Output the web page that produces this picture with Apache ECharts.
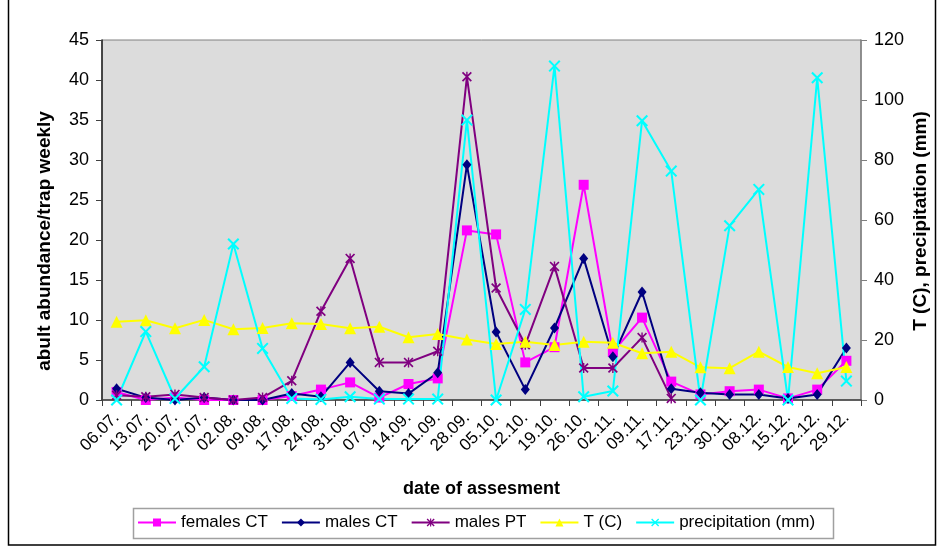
<!DOCTYPE html>
<html>
<head>
<meta charset="utf-8">
<script src="https://cdn.jsdelivr.net/npm/echarts@6/dist/echarts.min.js"></script>
<style>html,body{margin:0;padding:0;background:#fff}#c{width:943px;height:547px}</style>
</head>
<body>
<div id="c"></div>
<script>
const categories = ['06.07.','13.07.','20.07.','27.07.','02.08.','09.08.','17.08.','24.08.','31.08.','07.09.','14.09.','21.09.','28.09.','05.10.','12.10.','19.10.','26.10.','02.11.','09.11.','17.11.','23.11.','30.11.','08.12.','15.12.','22.12.','29.12.'];
const femalesCT = [1.0,0,0.3,0,0,0,0.5,1.3,2.2,0.3,2.0,2.7,21.2,20.7,4.7,6.6,26.9,6.0,10.3,2.3,0.7,1.1,1.3,0.2,1.3,4.9];
const malesCT   = [1.4,0.3,0,0.3,0,0,0.8,0.4,4.7,1.1,0.8,3.4,29.4,8.5,1.3,9.0,17.7,5.4,13.5,1.4,0.9,0.7,0.7,0.2,0.7,6.5];
const malesPT   = [0.6,0.4,0.7,0.3,0,0.3,2.4,11.1,17.7,4.7,4.7,6.1,40.4,14.0,6.9,16.7,4.0,4.0,7.8,0.2,null,null,null,null,null,null];
const tempC     = [26.1,26.6,23.9,26.7,23.6,24.0,25.6,25.3,23.9,24.4,20.9,22.0,20.2,18.7,19.4,18.3,19.4,19.1,15.6,16.1,10.9,10.6,16.1,11.0,8.9,11.0];
const precip    = [0,22.8,0.5,11.1,52.0,17.2,0.5,0.2,1.1,0.3,0.3,0.3,93.3,0,30.2,111.3,1.1,3.0,93.1,76.3,0,58.1,70.2,0,107.4,6.3];
const leftTicks = {min:0,max:45,interval:5};
const rightTicks = {min:0,max:120,interval:20};

const crossPath = 'path://M0,1.2L1.2,0L5,3.8L8.8,0L10,1.2L6.2,5L10,8.8L8.8,10L5,6.2L1.2,10L0,8.8L3.8,5Z';
const starPath = 'path://M0,1.2L1.2,0L5,3.8L8.8,0L10,1.2L6.2,5L10,8.8L8.8,10L5,6.2L1.2,10L0,8.8L3.8,5Z M4.3,0L5.7,0L5.7,10L4.3,10Z';

const font = 'Liberation Sans, Arial, sans-serif';
const chart = echarts.init(document.getElementById('c'));
function ser(name, data, color, symbol, size, yIdx){
  return {name, type:'line', data, yAxisIndex:yIdx, symbol, symbolSize:size,
    lineStyle:{color, width:2}, itemStyle:{color}, showAllSymbol:true, connectNulls:false, animation:false};
}
chart.setOption({
  animation:false,
  textStyle:{fontFamily:font},
  grid:{left:102, right:82, top:40, bottom:147, show:true, backgroundColor:'#dcdcdc', borderColor:'#808080', borderWidth:1},
  graphic:[
    {type:'rect', shape:{x:8.5,y:-2,width:927,height:547}, style:{fill:'none', stroke:'#000', lineWidth:1.5}, silent:true},
    {type:'rect', shape:{x:133.5,y:508.5,width:700,height:30}, style:{fill:'#fff', stroke:'#a0a0a0', lineWidth:1.5}, silent:true, z:-1},
    {type:'text', x:45, y:241, rotation:Math.PI/2, silent:true,
      style:{text:'abult abundance/trap weekly', font:'bold 19px Liberation Sans, Arial, sans-serif', fill:'#000', textAlign:'center', textVerticalAlign:'middle'}},
    {type:'text', x:921, y:221, rotation:Math.PI/2, silent:true,
      style:{text:'T (C), precipitation (mm)', font:'bold 19px Liberation Sans, Arial, sans-serif', fill:'#000', textAlign:'center', textVerticalAlign:'middle'}}
  ],
  legend:{left:137, top:514, itemWidth:38, itemHeight:10, itemGap:13, textStyle:{fontSize:17, color:'#000', fontFamily:font}, padding:0},
  xAxis:{type:'category', data:categories, boundaryGap:true,
    name:'date of assesment', nameLocation:'middle', nameGap:80,
    nameTextStyle:{fontSize:18, fontWeight:'bold', color:'#000'},
    axisLine:{lineStyle:{color:'#404040', width:1.5}},
    axisTick:{show:true, alignWithLabel:false, length:6, lineStyle:{color:'#404040'}},
    axisLabel:{rotate:45, fontSize:17, color:'#000', margin:15, interval:0},
    splitLine:{show:false}},
  yAxis:[
    {type:'value', min:leftTicks.min, max:leftTicks.max, interval:leftTicks.interval, position:'left',
      axisLine:{show:true, lineStyle:{color:'#202020', width:1.5}},
      axisTick:{show:true, length:6, lineStyle:{color:'#404040'}},
      axisLabel:{fontSize:18, color:'#000', margin:13},
      splitLine:{show:false}},
    {type:'value', min:rightTicks.min, max:rightTicks.max, interval:rightTicks.interval, position:'right',
      axisLine:{show:true, lineStyle:{color:'#808080', width:1.5}},
      axisTick:{show:true, length:6, lineStyle:{color:'#808080'}},
      axisLabel:{fontSize:18, color:'#000', margin:13},
      splitLine:{show:false}}
  ],
  series:[
    ser('females CT', femalesCT, '#ff00ff', 'rect', 10, 0),
    ser('males CT', malesCT, '#000080', 'diamond', [9,11], 0),
    ser('males PT', malesPT, '#800080', starPath, 10, 0),
    ser('T (C)', tempC, '#ffff00', 'triangle', 12, 1),
    ser('precipitation (mm)', precip, '#00ffff', crossPath, 12, 1)
  ]
});
</script>
</body>
</html>
